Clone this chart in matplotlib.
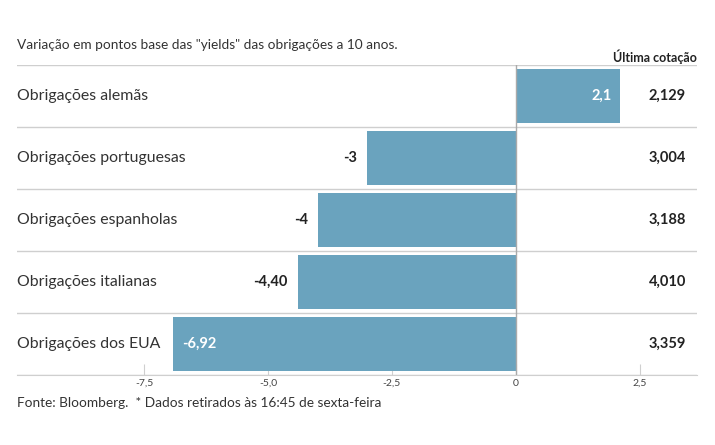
import matplotlib
matplotlib.use('Agg')
import matplotlib.pyplot as plt
import numpy as np

plt.rcParams['font.family'] = ['Lato', 'DejaVu Sans']

#Data
categories = ['Obrigações alemãs', 'Obrigações portuguesas', 'Obrigações espanholas',
              'Obrigações italianas', 'Obrigações dos EUA']
changes = [2.1, -3, -4, -4.40, -6.92]
change_labels = ['2,1', '-3', '-4', '-4,40', '-6,92']
last_quote = ['2,129', '3,004', '3,188', '4,010', '3,359']
ticks = [-7.5, -5.0, -2.5, 0, 2.5]
tick_labels = ['-7,5', '-5,0', '-2,5', '0', '2,5']

bar_color = '#6aa3be'
grid_color = '#cfcfcf'
text_color = '#222222'

fig = plt.figure(figsize=(7.15, 4.45), dpi=100)
ax = fig.add_axes([17/715, 70/445, 680/715, 310/445])

n = len(categories)
y = np.arange(n)
ax.barh(y, changes, height=0.86, color=bar_color, zorder=2)
ax.set_ylim(n - 0.5, -0.5)
ax.set_xlim(-10.06, 3.65)

# row separators
for b in np.arange(-0.5, n, 1.0):
	ax.axhline(b, color=grid_color, lw=1, zorder=1)
ax.axvline(0, color='#aaaaaa', lw=1, zorder=3)

# inside / outside labels
for i, (v, lbl) in enumerate(zip(changes, change_labels)):
	if v > 0:
		ax.text(v - 0.16, i, lbl, ha='right', va='center', color='white',
				fontsize=10.5, fontweight='bold', zorder=4)
	elif abs(v) > 5:
		ax.text(v + 0.18, i, lbl, ha='left', va='center', color='white',
				fontsize=10.5, fontweight='bold', zorder=4)
	else:
		ax.text(v - 0.2, i, lbl, ha='right', va='center', color=text_color,
				fontsize=10.5, fontweight='bold', zorder=4)

# category names
for i, c in enumerate(categories):
	ax.text(0, i, c, transform=ax.get_yaxis_transform(), ha='left', va='center',
			color='#333333', fontsize=11.4)

# last quote column
for i, q in enumerate(last_quote):
	ax.text(686/715, (445 - (96 + 62*i))/445, q, transform=fig.transFigure,
			ha='right', va='center', color=text_color, fontsize=10.5, fontweight='bold')

fig.text(697/715, (445-57)/445, 'Última cotação', ha='right', va='center',
		 fontsize=9, fontweight='bold', color=text_color)
fig.text(17/715, (445-45)/445, 'Variação em pontos base das "yields" das obrigações a 10 anos.',
		 ha='left', va='center', fontsize=9.8, color='#333333')
fig.text(17/715, (445-403)/445, 'Fonte: Bloomberg.  * Dados retirados às 16:45 de sexta-feira',
		 ha='left', va='center', fontsize=9.8, color='#333333')

ax.set_yticks([])
ax.set_xticks(ticks)
ax.set_xticklabels(tick_labels, fontsize=7.5, color='#444444')
ax.tick_params(axis='x', direction='in', length=8, color=grid_color, pad=3)
for s in ['top', 'left', 'right']:
	ax.spines[s].set_visible(False)
ax.spines['bottom'].set_color(grid_color)

fig.savefig('out.png', dpi=100)
